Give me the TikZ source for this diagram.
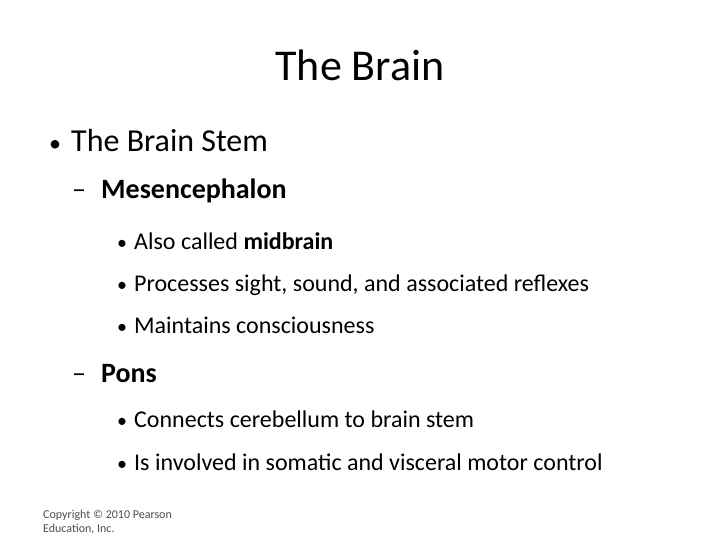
\documentclass[tikz,border=0pt]{standalone}
\usepackage{fontspec}
\setmainfont{Carlito}
\begin{document}
\begin{tikzpicture}[x=1pt,y=-1pt,
  t/.style={anchor=base west,inner sep=0pt,text=black}]
\useasboundingbox (0,0) rectangle (720,540);
\node[anchor=base,inner sep=0pt] (title) at (360,81) {\fontsize{44}{52}\selectfont The Brain};
\node[t] (b1) at (49,152) {\fontsize{24}{34}\selectfont •};
\node[t] (l1) at (71,152) {\fontsize{32}{38}\selectfont The Brain Stem};
\node[t] (d1) at (72,199) {\fontsize{28}{34}\selectfont –};
\node[t] (l2) at (101,199) {\fontsize{28}{34}\selectfont\textbf{Mesencephalon}};
\foreach \y/\s [count=\i] in {249/{Also called \textbf{midbrain}},291/{Processes sight, sound, and associated reflexes},333/{Maintains consciousness},427/{Connects cerebellum to brain stem},470/{Is involved in somatic and visceral motor control}}{
  \node[t] (s\i) at (117,\y) {\fontsize{20}{24}\selectfont •};
  \node[t] (l\i) at (134,\y) {\fontsize{24}{29}\selectfont \s};
}
\node[t] (d2) at (72,382) {\fontsize{28}{34}\selectfont –};
\node[t] (l6) at (101,382) {\fontsize{28}{34}\selectfont\textbf{Pons}};
\node[t,text=black!70] (c1) at (43,518) {\fontsize{12}{14}\selectfont Copyright © 2010 Pearson};
\node[t,text=black!70] (c2) at (43,532) {\fontsize{12}{14}\selectfont Education, Inc.};
\end{tikzpicture}
\end{document}
